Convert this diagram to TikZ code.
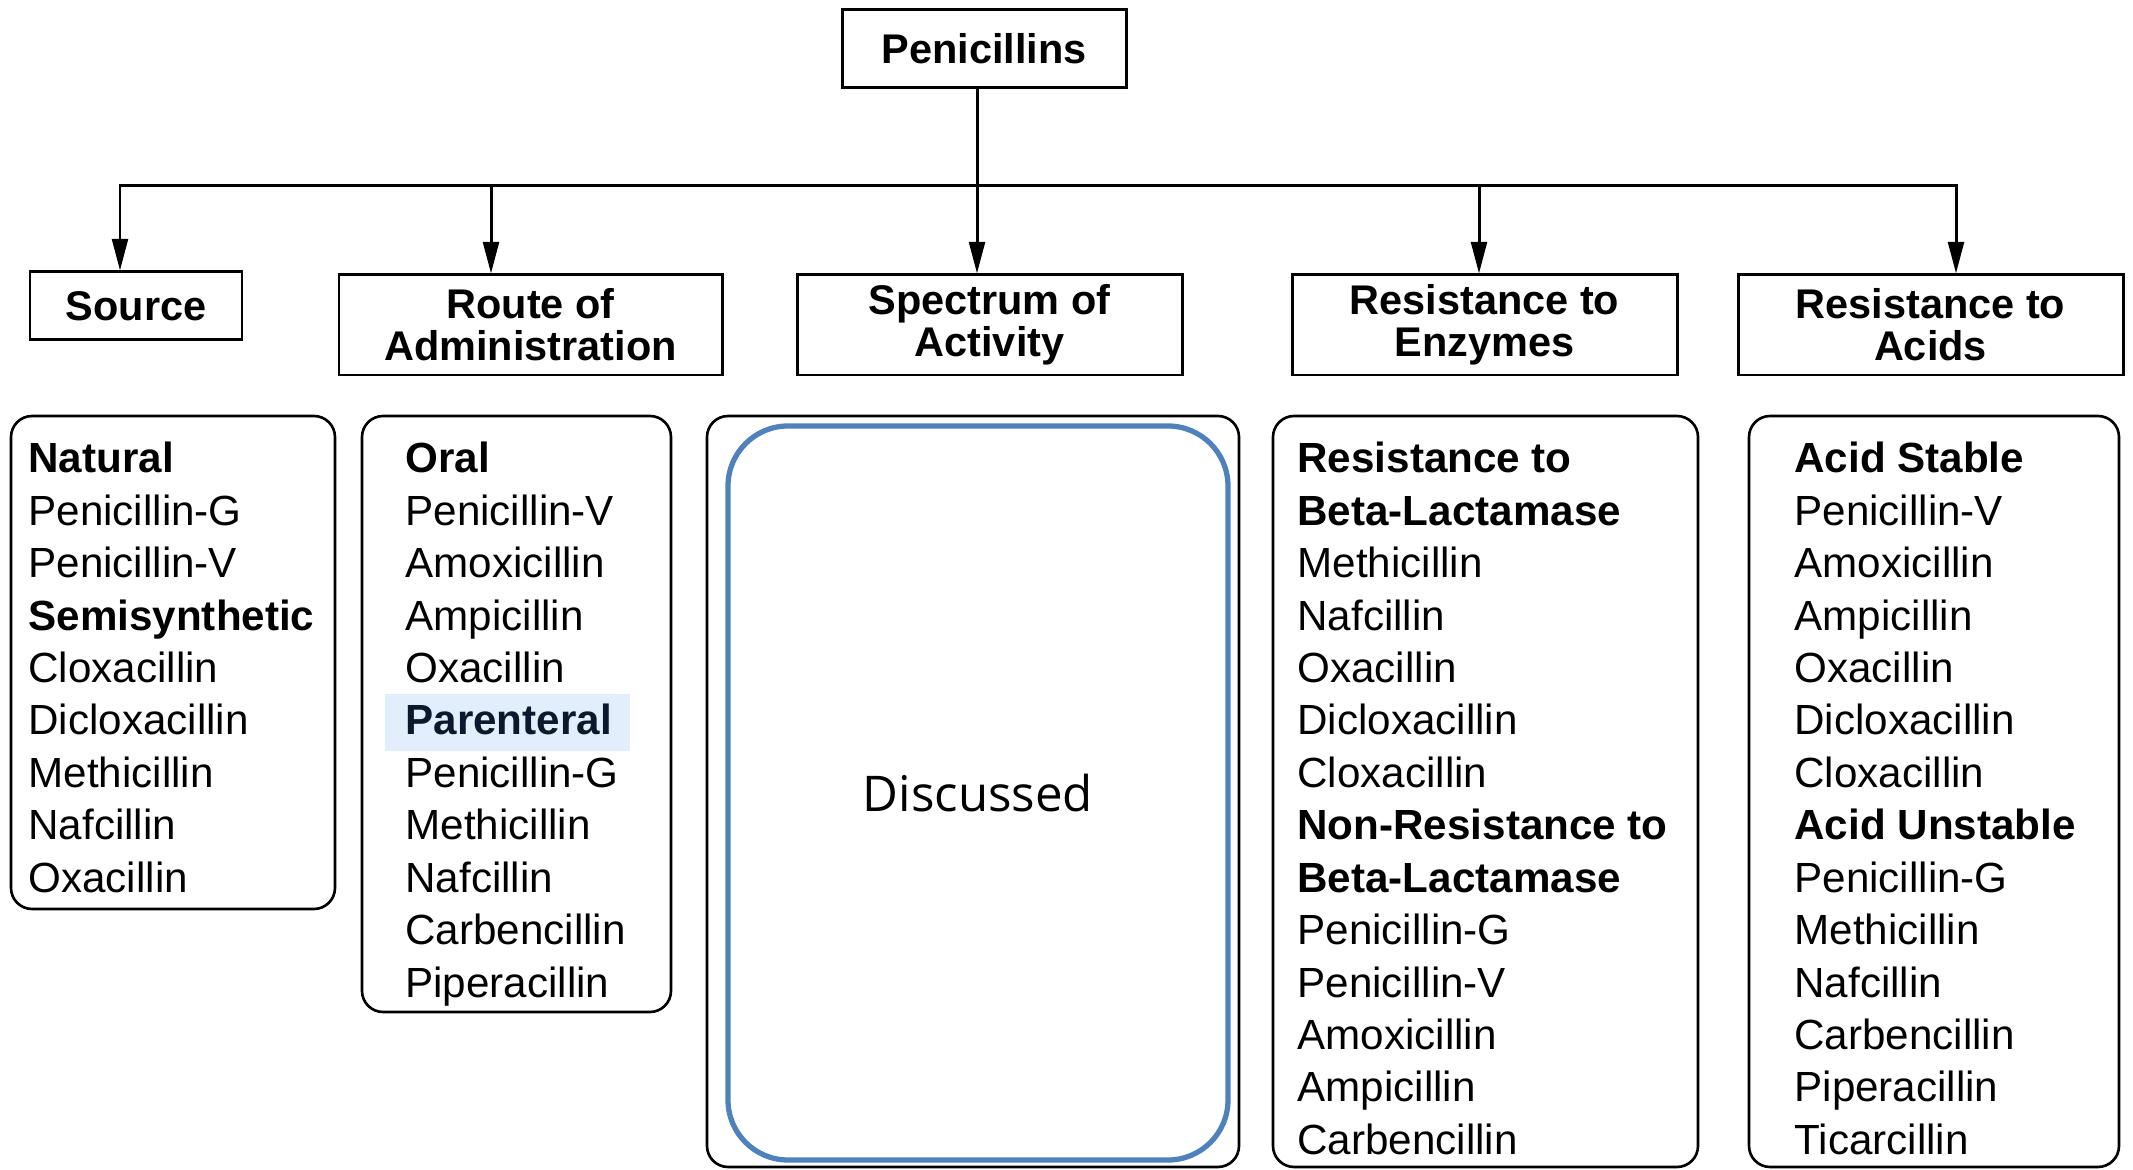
\documentclass[tikz,border=0pt]{standalone}
\usepackage{fontspec}
\setmainfont{Liberation Sans}
\newfontfamily\discfont{Open Sans}
\usepackage{tikz}
\usetikzlibrary{arrows.meta,calc}
\definecolor{hlblue}{RGB}{226,238,252}
\definecolor{frameblue}{RGB}{79,129,189}
\definecolor{hlink}{RGB}{12,24,44}

\begin{document}
\begin{tikzpicture}[>={Triangle[length=9pt,width=4.5pt]}, line width=0.85pt,
        head/.style={draw, align=center, inner sep=0pt, font=\bfseries\fontsize{11.8}{12}\selectfont},
        listbox/.style={draw, line width=0.75pt, rounded corners=6pt, inner sep=0pt},
        item/.style={anchor=base west, inner sep=0pt, font=\fontsize{12}{14}\selectfont}]
        \useasboundingbox (0,0) rectangle (21.33,-11.70);
        % top box and headers
        \node[head, minimum width=2.84cm, minimum height=0.78cm] (pen) at (9.84,-0.49) {Penicillins};
        \node[head, minimum width=2.12cm, minimum height=0.68cm] (src) at (1.36,-3.06) {Source};
        \node[head, minimum width=3.83cm, minimum height=1.00cm] (route) at (5.305,-3.25) {Route of\\Administration};
        \node[head, minimum width=3.85cm, minimum height=1.00cm] (spec) at (9.895,-3.25) {Spectrum of\\Activity};
        \node[head, minimum width=3.85cm, minimum height=1.00cm] (enz) at (14.845,-3.25) {Resistance to\\Enzymes};
        \node[head, minimum width=3.85cm, minimum height=1.00cm] (acid) at (19.305,-3.25) {Resistance to\\Acids};
        % connectors
        \coordinate (b1) at (1.20,-1.86);
        \coordinate (b2) at (4.91,-1.86);
        \coordinate (b3) at (9.77,-1.86);
        \coordinate (b4) at (14.79,-1.86);
        \coordinate (b5) at (19.56,-1.86);
        \draw[<->] (b1 |- src.north) -- (b1) -- (b5) -- (b5 |- acid.north);
        \draw[->] (b2) -- (b2 |- route.north);
        \draw[->] (b4) -- (b4 |- enz.north);
        \draw[->] (pen.south -| b3) -- (b3 |- spec.north);
        % list boxes
        \node[listbox, minimum width=3.24cm, minimum height=4.93cm] (srclist) at (1.73,-6.625) {};
        \node[listbox, minimum width=3.09cm, minimum height=5.96cm] (routelist) at (5.165,-7.14) {};
        \node[listbox, minimum width=5.32cm, minimum height=7.51cm] (speclist) at (9.73,-7.915) {};
        \node[listbox, minimum width=4.25cm, minimum height=7.51cm] (enzlist) at (14.855,-7.915) {};
        \node[listbox, minimum width=3.70cm, minimum height=7.51cm] (acidlist) at (19.34,-7.915) {};
        \node[draw=frameblue, line width=1.5pt, rounded corners=0.6cm, minimum width=5.0cm, minimum height=7.34cm,
              font=\discfont\fontsize{14}{16}\selectfont] (disc) at (9.78,-7.93) {Discussed};
        \fill[hlblue] (3.85,-6.94) rectangle (6.30,-7.51);
        % list entries
        \foreach \t [count=\i] in {\textbf{Natural}, Penicillin-G, Penicillin-V, \textbf{Semisynthetic},
                Cloxacillin, Dicloxacillin, Methicillin, Nafcillin, Oxacillin}
            \node[item] (srcitem\i) at (0.27,{-4.73-0.524*(\i-1)}) {\t};
        \foreach \t [count=\i] in {\textbf{Oral}, Penicillin-V, Amoxicillin, Ampicillin, Oxacillin,
                {\color{hlink}\textbf{Parenteral}}, Penicillin-G, Methicillin, Nafcillin, Carbencillin, Piperacillin}
            \node[item] (routeitem\i) at (4.04,{-4.73-0.524*(\i-1)}) {\t};
        \foreach \t [count=\i] in {\textbf{Resistance to}, \textbf{Beta-Lactamase}, Methicillin, Nafcillin,
                Oxacillin, Dicloxacillin, Cloxacillin, \textbf{Non-Resistance to}, \textbf{Beta-Lactamase},
                Penicillin-G, Penicillin-V, Amoxicillin, Ampicillin, Carbencillin}
            \node[item] (enzitem\i) at (12.96,{-4.73-0.524*(\i-1)}) {\t};
        \foreach \t [count=\i] in {\textbf{Acid Stable}, Penicillin-V, Amoxicillin, Ampicillin, Oxacillin,
                Dicloxacillin, Cloxacillin, \textbf{Acid Unstable}, Penicillin-G, Methicillin, Nafcillin,
                Carbencillin, Piperacillin, Ticarcillin}
            \node[item] (aciditem\i) at (17.93,{-4.73-0.524*(\i-1)}) {\t};
    \end{tikzpicture}
\end{document}
